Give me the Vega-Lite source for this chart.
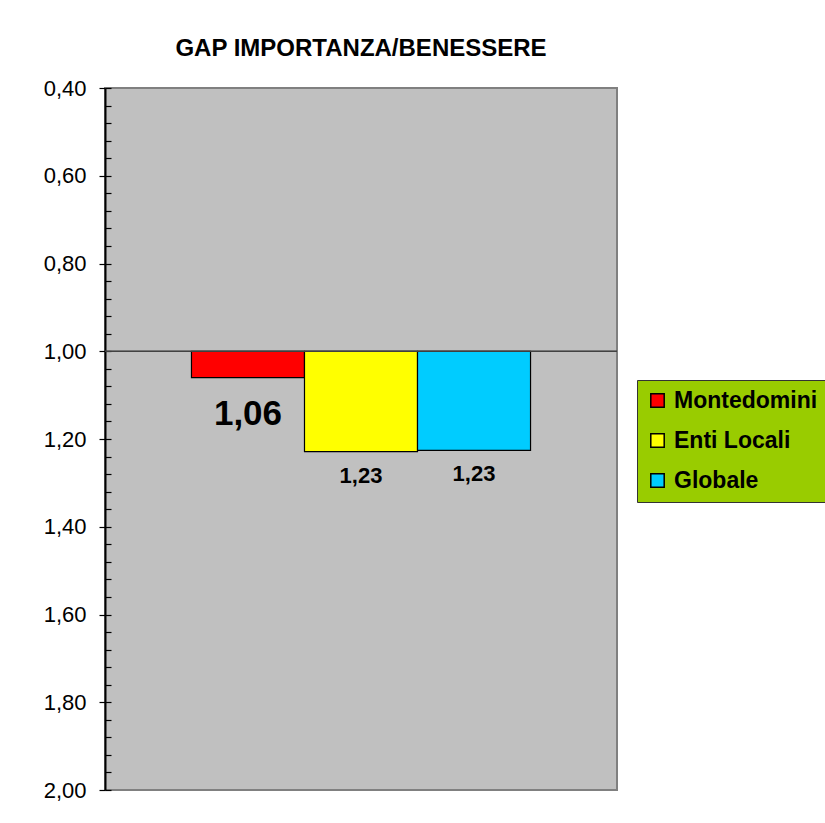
{
  "$schema": "https://vega.github.io/schema/vega-lite/v6.json",
  "autosize": "none",
  "width": 512,
  "height": 702,
  "padding": {"left": 105, "top": 88, "right": 208, "bottom": 33},
  "background": "#ffffff",
  "config": {
    "locale": {"number": {"decimal": ",", "thousands": ".", "grouping": [3], "currency": ["", " €"]}},
    "view": {"fill": "#C0C0C0", "stroke": "#808080", "strokeWidth": 2},
    "font": "Liberation Sans"
  },
  "title": {
    "text": "GAP IMPORTANZA/BENESSERE",
    "font": "Liberation Sans",
    "fontSize": 24,
    "fontWeight": "bold",
    "color": "#000000",
    "anchor": "middle",
    "frame": "group",
    "baseline": "alphabetic",
    "offset": 31,
    "dy": 34
  },
  "data": {
    "values": [
      {"series": "Montedomini", "value": 1.06},
      {"series": "Enti Locali", "value": 1.229},
      {"series": "Globale", "value": 1.226}
    ]
  },
  "resolve": {"axis": {"y": "independent"}},
  "layer": [
    {
      "mark": {"type": "bar", "stroke": "#000000", "strokeWidth": 1.2},
      "encoding": {
        "x": {
          "field": "series",
          "type": "nominal",
          "sort": ["Montedomini", "Enti Locali", "Globale"],
          "scale": {"paddingInner": 0, "paddingOuter": 0.765},
          "axis": null
        },
        "y": {
          "field": "value",
          "type": "quantitative",
          "scale": {"domain": [0.4, 2.0], "reverse": true, "nice": false, "zero": false},
          "axis": {
            "orient": "left",
            "values": [0.4, 0.6, 0.8, 1.0, 1.2, 1.4, 1.6, 1.8, 2.0],
            "format": ".2f",
            "title": null,
            "grid": false,
            "domainColor": "#000000",
            "domainWidth": 2,
            "tickColor": "#000000",
            "tickWidth": 1.2,
            "tickSize": 6,
            "labelPadding": 13,
            "labelFont": "Liberation Sans",
            "labelFontSize": 22,
            "labelColor": "#000000"
          }
        },
        "y2": {"datum": 1.0},
        "color": {
          "field": "series",
          "type": "nominal",
          "scale": {"domain": ["Montedomini", "Enti Locali", "Globale"], "range": ["#FF0000", "#FFFF00", "#00CCFF"]},
          "legend": {
            "title": null,
            "orient": "none",
            "legendX": 532,
            "legendY": 292,
            "direction": "vertical",
            "fillColor": "#99CC00",
            "strokeColor": "#333333",
            "padding": 9,
            "symbolType": "square",
            "symbolSize": 180,
            "symbolStrokeColor": "#000000",
            "symbolStrokeWidth": 1.5,
            "symbolOpacity": 1,
            "labelFont": "Liberation Sans",
            "labelFontSize": 23,
            "labelFontWeight": "bold",
            "labelColor": "#000000",
            "labelLimit": 400,
            "labelOffset": 5,
            "rowPadding": 16
          }
        }
      }
    },
    {
      "mark": {"type": "rule", "color": "#404040", "strokeWidth": 1},
      "encoding": {
        "y": {
          "datum": 1.0,
          "type": "quantitative",
          "scale": {"domain": [0.4, 2.0], "reverse": true, "nice": false, "zero": false},
          "axis": {
            "orient": "left",
            "values": [0.4, 0.44, 0.48, 0.52, 0.56, 0.6, 0.64, 0.68, 0.72, 0.76, 0.8, 0.84, 0.88, 0.92, 0.96, 1.0, 1.04, 1.08, 1.12, 1.16, 1.2, 1.24, 1.28, 1.32, 1.36, 1.4, 1.44, 1.48, 1.52, 1.56, 1.6, 1.64, 1.68, 1.72, 1.76, 1.8, 1.84, 1.88, 1.92, 1.96, 2.0],
            "labels": false,
            "title": null,
            "grid": false,
            "domain": false,
            "tickColor": "#000000",
            "tickWidth": 1.2,
            "tickSize": -6
          }
        }
      }
    },
    {
      "transform": [{"filter": "datum.series === 'Montedomini'"}],
      "mark": {"type": "text", "font": "Liberation Sans", "fontWeight": "bold", "fontSize": 35, "baseline": "top", "dy": 19, "color": "#000000"},
      "encoding": {
        "x": {"field": "series", "type": "nominal", "sort": ["Montedomini", "Enti Locali", "Globale"], "axis": null},
        "y": {"field": "value", "type": "quantitative", "axis": null},
        "text": {"field": "value", "type": "quantitative", "format": ".2f"}
      }
    },
    {
      "transform": [{"filter": "datum.series !== 'Montedomini'"}],
      "mark": {"type": "text", "font": "Liberation Sans", "fontWeight": "bold", "fontSize": 22, "baseline": "top", "dy": 14, "color": "#000000"},
      "encoding": {
        "x": {"field": "series", "type": "nominal", "sort": ["Montedomini", "Enti Locali", "Globale"], "axis": null},
        "y": {"field": "value", "type": "quantitative", "axis": null},
        "text": {"field": "value", "type": "quantitative", "format": ".2f"}
      }
    }
  ]
}
